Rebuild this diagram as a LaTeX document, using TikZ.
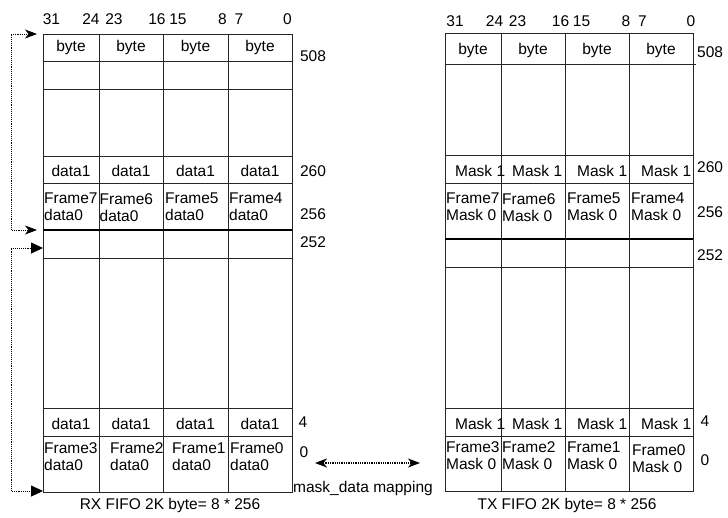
\documentclass[tikz,border=0pt]{standalone}
\usepackage{fontspec}
\setmainfont{Liberation Sans}
\usetikzlibrary{positioning,arrows.meta}

\tikzset{
  grid line/.style={line width=1pt,draw=black!85},
  bound line/.style={line width=2.6pt},
  txt/.style={inner sep=0pt,text height=11pt,text depth=0pt},
  pair/.style={inner sep=0pt,anchor=north west,align=left},
  hop/.style={densely dotted,line width=0.9pt},
  hoptip/.tip={Stealth[length=12pt,width=9pt,inset=3.5pt]},
  bigtip/.tip={Triangle[length=12pt,width=11pt]},
}

\begin{document}
\begin{tikzpicture}[x=1pt,y=-1pt,font=\fontsize{15.5}{17}\selectfont]
  \useasboundingbox (0,0) rectangle (728,517);

  % RX FIFO table
  \draw[grid line] (43,34) rectangle (292,492);
  \foreach \x in {99,163,228} \draw[grid line] (\x,34) -- (\x,492);
  \foreach \y in {61,89,156,183,258,408,436} \draw[grid line] (43,\y) -- (292,\y);
  \draw[bound line] (43,230) -- (292,230);

  % TX FIFO table
  \draw[grid line] (445,33) rectangle (693,491);
  \foreach \x in {501,565,629} \draw[grid line] (\x,33) -- (\x,491);
  \foreach \y in {155,183,267,408,436} \draw[grid line] (445,\y) -- (693,\y);
  \draw[grid line] (445,64) -- (696,64);
  \draw[bound line,line width=2pt] (445,239) -- (693,239);

  % bit numbers
  \foreach \n/\x in {31/51.5,24/91,23/114,16/157,15/178,8/222.5,7/239,0/287.5} {
    \node[txt] (rxbit\n) at (\x,19) {\n};
    \node[txt] (txbit\n) at (\x+403.5,21) {\n};
  }

  % byte and upper-word cells
  \foreach \c/\x in {1/71,2/131,3/195.5,4/260} {
    \node[txt] (rxbyte\c) at (\x,46) {byte};
    \node[txt] (rxhigh\c) at (\x,171) {data1};
    \node[txt] (rxlow\c) at (\x,424) {data1};
  }
  \foreach \c/\x in {1/473,2/533,3/597,4/661}
    \node[txt] (txbyte\c) at (\x,49) {byte};
  \foreach \c/\x in {1/455,2/512,3/577,4/641} {
    \node[txt,anchor=west] (txhigh\c) at (\x,171) {Mask 1};
    \node[txt,anchor=west] (txlow\c) at (\x,424) {Mask 1};
  }

  % frame cells
  \foreach \f/\x in {7/44,6/99.5,5/165,4/229}
    \node[pair] (rxf\f) at (\x,193) {Frame\f\\data0};
  \foreach \f/\x in {3/44,2/110,1/172,0/230}
    \node[pair] (rxf\f) at (\x,442.5) {Frame\f\\data0};
  \foreach \f/\x in {7/446,6/502,5/567,4/631}
    \node[pair] (txf\f) at (\x,193) {Frame\f\\Mask 0};
  \foreach \f/\x in {3/446,2/502,1/567}
    \node[pair] (txf\f) at (\x,441.5) {Frame\f\\Mask 0};
  \node[pair] (txf0) at (632,444.5) {Frame0\\Mask 0};

  % addresses
  \foreach \a/\y in {508/56,260/171,256/214,252/242}
    \node[txt] (rxaddr\a) at (313,\y) {\a};
  \node[txt] (rxaddr4) at (303,422) {4};
  \node[txt] (rxaddr0) at (304,452) {0};
  \foreach \a/\y in {508/52,260/167,256/212,252/255}
    \node[txt,anchor=west] (txaddr\a) at (697,\y) {\a};
  \node[txt] (txaddr4) at (705,421) {4};
  \node[txt] (txaddr0) at (705,460) {0};

  % captions
  \node[txt] (rxcap) at (170,504) {RX FIFO 2K byte= 8 * 256};
  \node[txt] (txcap) at (567,504) {TX FIFO 2K byte= 8 * 256};
  \node[txt,anchor=west] (maplabel) at (293,487) {mask\_data mapping};

  % wrap-around pointers
  \coordinate (rxtopin) at (37,34);
  \coordinate (rxmidin) at (37,230);
  \coordinate (rxlowin) at (43,248);
  \coordinate (rxbotin) at (43,491);
  \draw[hop,hoptip-hoptip] (rxtopin) -- ++(-26,0) |- (rxmidin);
  \draw[hop,bigtip-bigtip] (rxlowin) -- ++(-32,0) |- (rxbotin);

  % mapping between the two FIFOs
  \coordinate (mapleft) at (315,463);
  \coordinate (mapright) at (420,463);
  \draw[hop,line width=1.3pt,hoptip-hoptip] (mapleft) -- (mapright);
\end{tikzpicture}
\end{document}
